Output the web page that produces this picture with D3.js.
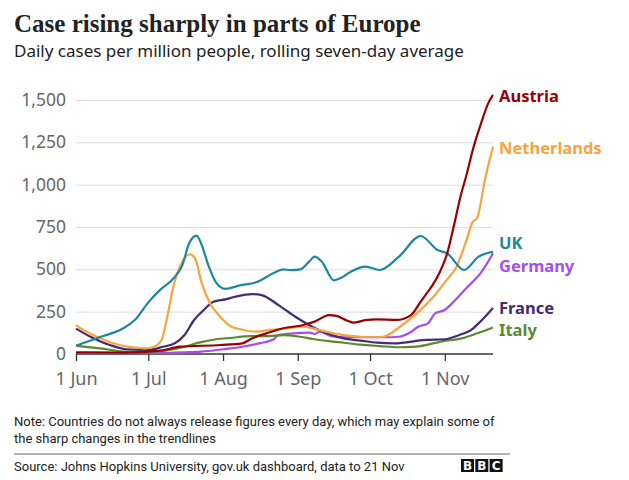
<!DOCTYPE html>
<html>
<head>
<meta charset="utf-8">
<script src="https://cdn.jsdelivr.net/npm/d3@7"></script>
<style>
  body { margin: 0; background: #fff; }
  svg { display: block; }
</style>
</head>
<body>
<svg id="chart" width="629" height="480"></svg>
<script>
// days after 1 June 2020, daily cases per million (7-day avg)
const austria = [[0, 10], [20, 8], [35, 20], [43, 43], [60, 53], [69, 63], [73, 92], [79, 122], [86, 152],
    [94, 170], [99, 191], [105, 230], [108, 225], [112, 200], [115, 185], [120, 200], [125, 205], [133, 201],
    [139, 230], [143, 309], [146, 368], [148, 408], [151, 486], [154, 594], [157, 772], [159.5, 929],
    [162, 1057], [164.6, 1205], [168, 1360], [171, 1480], [173, 1530]];

const netherlands = [[0, 171], [4, 135], [11, 87], [18, 53], [25, 37], [29, 33], [33, 47], [35.5, 83],
    [37.6, 201], [40.4, 398], [44.5, 555], [47.3, 589], [49.4, 565], [52.2, 417], [55.6, 299], [59.8, 220],
    [64, 165], [69.4, 142], [75, 132], [80.5, 142], [87.4, 152], [94.3, 161], [99.9, 145], [106.8, 122],
    [115, 106], [123.4, 99], [127.5, 102], [134.4, 161], [141.4, 240], [148.3, 338], [153.8, 437],
    [157.9, 516], [162, 673], [164.6, 780], [166.3, 800], [169.8, 1038], [173, 1224]];

const uk = [[0, 49], [10, 100], [20, 155], [25, 210], [30, 305], [35, 380], [40, 440], [44, 520], [47, 655],
    [50, 699], [52, 650], [55, 520], [58, 425], [62, 385], [68, 405], [75, 425], [82, 478], [86, 500],
    [89, 495], [93, 500], [97, 550], [99, 575], [102, 545], [107, 435], [110, 450], [114, 486], [120, 516],
    [126, 496], [134, 575], [143, 697], [150, 614], [154, 594], [161, 496], [167, 575], [173, 604]];

const germany = [[0, 6], [20, 5], [35, 6], [45, 10], [52, 14], [61, 28], [69, 43], [76, 63], [82, 87],
    [84, 112], [90, 122], [97, 126], [99, 118], [101, 132], [106, 106], [112, 99], [119, 99], [128, 99],
    [134, 102], [138, 122], [142, 161], [146, 181], [149, 240], [153, 260], [156, 299], [162, 390],
    [168, 480], [173, 594]];

const france = [[0, 150], [6, 102], [14, 53], [21, 28], [30, 24], [36, 43], [41, 63], [45, 112], [49, 201],
    [53, 260], [57, 309], [62, 323], [66, 338], [73, 354], [77, 348], [84, 289], [91, 220], [98, 161],
    [104, 122], [111, 92], [118, 79], [125, 67], [132, 63], [145, 83], [153, 87], [159, 112], [164, 142],
    [167, 181], [170, 225], [173, 272]];

const italy = [[0, 49], [10, 33], [21, 14], [30, 14], [37, 20], [45, 43], [51, 67], [58, 87], [65, 96],
    [72, 106], [79, 106], [86, 112], [93, 102], [99, 87], [109, 70], [118, 55], [126, 47], [134, 40],
    [141, 43], [152, 75], [160, 92], [167, 125], [173, 157]];

const yTicks = [0, 250, 500, 750, 1000, 1250, 1500];
const xTickDates = ['2020-06-01', '2020-07-01', '2020-08-01', '2020-09-01', '2020-10-01', '2020-11-01'];

const series = [
    {name: 'Germany', values: germany, color: '#a84ded', labelY: 266},
    {name: 'Italy', values: italy, color: '#5a8a2b', labelY: 330},
    {name: 'France', values: france, color: '#442a76', labelY: 308},
    {name: 'Netherlands', values: netherlands, color: '#f6a440', labelY: 148},
    {name: 'UK', values: uk, color: '#1d879f', labelY: 243},
    {name: 'Austria', values: austria, color: '#990000', labelY: 96}
];

const startDate = new Date(2020, 5, 1);
const endDate = new Date(2020, 10, 21);
const parseDay = d3.timeParse('%Y-%m-%d');

const svg = d3.select('#chart');
const sans = "'Noto Sans', 'Open Sans', sans-serif";
const body = "Roboto, 'Noto Sans', sans-serif";

const x = d3.scaleTime().domain([startDate, endDate]).range([76, 493]);
const y = d3.scaleLinear().domain([0, 1500]).range([354, 100]);

// titles
svg.append('text')
    .attr('x', 14).attr('y', 32)
    .attr('font-family', "'Liberation Serif', serif")
    .attr('font-weight', 'bold')
    .attr('font-size', 25)
    .attr('fill', '#222')
    .text('Case rising sharply in parts of Europe');

svg.append('text')
    .attr('x', 14).attr('y', 57)
    .attr('font-family', sans)
    .attr('font-size', 17)
    .attr('fill', '#222')
    .text('Daily cases per million people, rolling seven-day average');

// y gridlines + labels
const yAxis = svg.append('g')
    .attr('transform', 'translate(76,0)')
    .call(d3.axisLeft(y).tickValues(yTicks).tickSize(-417).tickPadding(10).tickFormat(d3.format(',')));
yAxis.select('.domain').remove();
yAxis.selectAll('.tick line').attr('stroke', '#dcdcdc').attr('stroke-width', 1);
yAxis.selectAll('.tick text')
    .attr('font-family', sans).attr('font-size', 17.5).attr('fill', '#666');
yAxis.selectAll('.tick').filter(d => d === 0).select('line').remove();

// x axis
const xAxis = svg.append('g')
    .attr('transform', 'translate(0,354)')
    .call(d3.axisBottom(x).tickValues(xTickDates.map(parseDay)).tickSize(7).tickPadding(11)
        .tickFormat(d3.timeFormat('%-d %b')));
xAxis.select('.domain').attr('stroke', '#333').attr('stroke-width', 1.6)
    .attr('d', 'M76,0H493');
xAxis.selectAll('.tick line').attr('stroke', '#333').attr('stroke-width', 1.3);
xAxis.selectAll('.tick text')
    .attr('font-family', sans).attr('font-size', 18).attr('fill', '#666');

// lines
const dayX = d => x(d3.timeDay.offset(startDate, Math.floor(d))) + (x(d3.timeDay.offset(startDate, 1)) - x(startDate)) * (d % 1);
const line = d3.line()
    .x(d => dayX(d[0]))
    .y(d => y(d[1]))
    .curve(d3.curveMonotoneX);

svg.append('g').selectAll('path')
    .data(series)
    .join('path')
    .attr('fill', 'none')
    .attr('stroke', d => d.color)
    .attr('stroke-width', 2.2)
    .attr('stroke-linejoin', 'round')
    .attr('d', d => line(d.values));

svg.append('g').selectAll('text')
    .data(series)
    .join('text')
    .attr('x', 499)
    .attr('y', d => d.labelY)
    .attr('dy', '0.35em')
    .attr('font-family', sans)
    .attr('font-weight', 'bold')
    .attr('font-size', 16.5)
    .attr('fill', d => d.color)
    .text(d => d.name);

// footnote
svg.append('text')
    .attr('x', 14).attr('y', 426)
    .attr('font-family', body).attr('font-size', 13).attr('fill', '#222')
    .text('Note: Countries do not always release figures every day, which may explain some of');
svg.append('text')
    .attr('x', 14).attr('y', 443)
    .attr('font-family', body).attr('font-size', 13).attr('fill', '#222')
    .text('the sharp changes in the trendlines');

svg.append('line')
    .attr('x1', 14).attr('x2', 510).attr('y1', 454).attr('y2', 454)
    .attr('stroke', '#999').attr('stroke-width', 1.5);

svg.append('text')
    .attr('x', 14).attr('y', 471)
    .attr('font-family', body).attr('font-size', 13).attr('fill', '#222')
    .text('Source: Johns Hopkins University, gov.uk dashboard, data to 21 Nov');

// BBC blocks
const bbc = svg.append('g').attr('transform', 'translate(461,459)');
['B', 'B', 'C'].forEach((ch, i) => {
    bbc.append('rect').attr('x', i * 14.3).attr('y', 0).attr('width', 13).attr('height', 13).attr('fill', '#111');
    bbc.append('text').attr('x', i * 14.3 + 6.5).attr('y', 11)
        .attr('text-anchor', 'middle')
        .attr('font-family', "'DejaVu Sans', sans-serif").attr('font-weight', 'bold')
        .attr('font-size', 12).attr('fill', '#fff').text(ch);
});
</script>
</body>
</html>
